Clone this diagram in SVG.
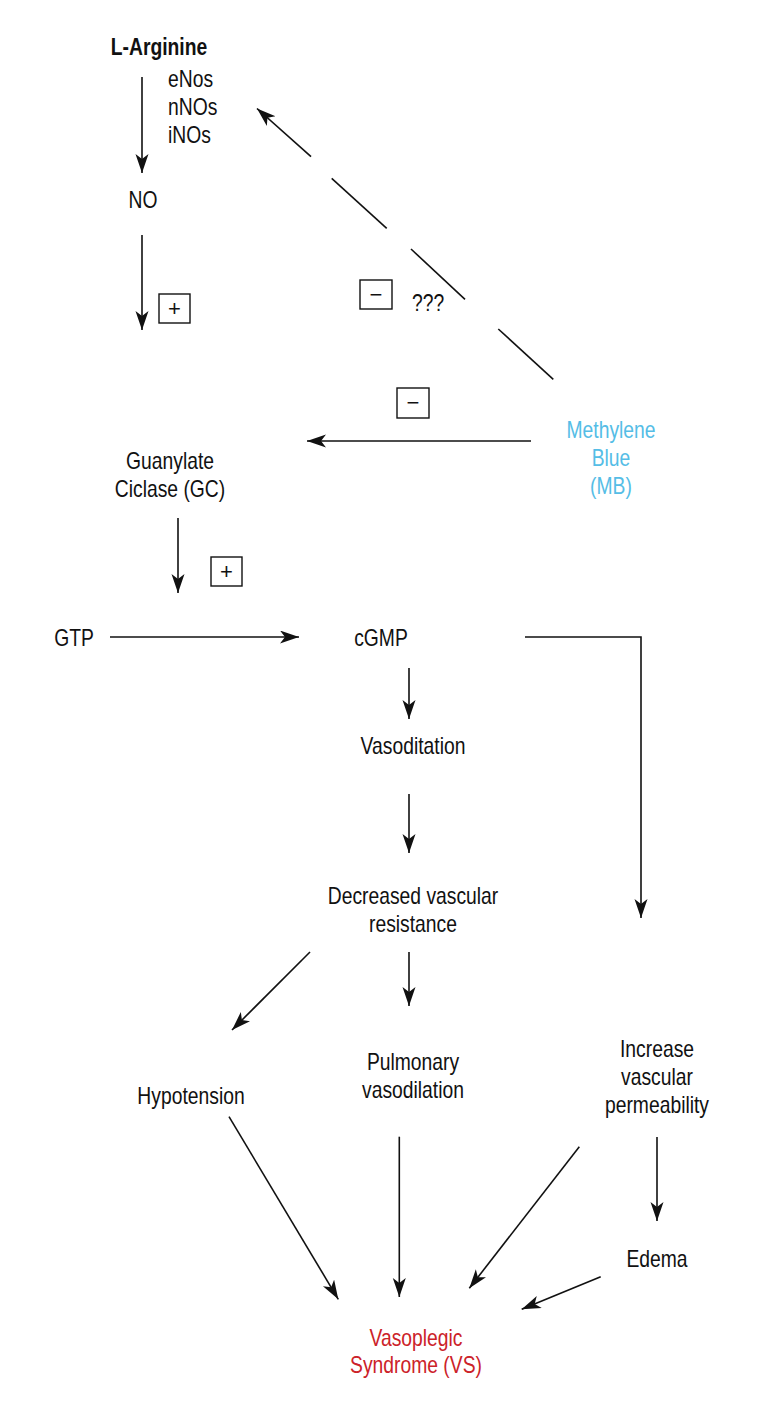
<svg xmlns="http://www.w3.org/2000/svg" width="771" height="1414" viewBox="0 0 771 1414">
<style>
text{font-family:"Liberation Sans",Arimo,sans-serif;font-size:23px;fill:#111;text-anchor:middle}
.b{font-weight:bold}
.l{text-anchor:start}
.red{fill:#cc2229}
.blue{fill:#55bde6}
.ln{stroke:#111;stroke-width:1.6;fill:none}
.ar{marker-end:url(#ah)}
.box{fill:#fff;stroke:#111;stroke-width:1.4}
.sg{font-size:22px}
</style>
<defs>
<marker id="ah" markerUnits="userSpaceOnUse" markerWidth="20" markerHeight="14" refX="19" refY="6.5" orient="auto">
<path d="M0,0 L19,6.5 L0,13 L5,6.5 Z" fill="#111"/>
</marker>
</defs>
<rect width="771" height="1414" fill="#fff"/>
<g id="connectors">
<line class="ln ar" x1="142" y1="77" x2="142" y2="173"/>
<line class="ln ar" x1="142" y1="235" x2="142" y2="330"/>
<line class="ln" x1="553.3" y1="379.3" x2="498.3" y2="329"/>
<line class="ln" x1="465" y1="299.3" x2="411" y2="249"/>
<line class="ln" x1="386.7" y1="228.3" x2="331.7" y2="178.3"/>
<line class="ln ar" x1="311" y1="156.7" x2="257" y2="108.5"/>
<line class="ln ar" x1="531" y1="441" x2="307" y2="441"/>
<line class="ln ar" x1="178" y1="518" x2="178" y2="593"/>
<line class="ln ar" x1="110" y1="637" x2="299" y2="637"/>
<polyline class="ln ar" points="525,637 641,637 641,918"/>
<line class="ln ar" x1="409" y1="668" x2="409" y2="719"/>
<line class="ln ar" x1="409" y1="794" x2="409" y2="853"/>
<line class="ln ar" x1="409" y1="952" x2="409" y2="1006"/>
<line class="ln ar" x1="310" y1="952" x2="232" y2="1030"/>
<line class="ln ar" x1="657" y1="1137" x2="657" y2="1221"/>
<line class="ln ar" x1="229" y1="1116.7" x2="338.3" y2="1299.3"/>
<line class="ln ar" x1="399.3" y1="1136.7" x2="399.3" y2="1297"/>
<line class="ln ar" x1="579.3" y1="1146.7" x2="469.3" y2="1288.3"/>
<line class="ln ar" x1="600.7" y1="1276.7" x2="521.7" y2="1309.3"/>
</g>
<g id="n-larginine"><text class="b" transform="translate(159,55) scale(0.84,1)">L-Arginine</text></g>
<g id="n-enzymes">
<text class="l" transform="translate(168,87) scale(0.84,1)">eNos</text>
<text class="l" transform="translate(168,115) scale(0.84,1)">nNOs</text>
<text class="l" transform="translate(168,143) scale(0.84,1)">iNOs</text>
</g>
<g id="n-no"><text transform="translate(143,208) scale(0.84,1)">NO</text></g>
<g id="s-plus1"><rect class="box" x="159" y="294" width="31" height="29"/><text class="sg" x="174.5" y="316">+</text></g>
<g id="s-minus1"><rect class="box" x="360" y="280" width="32" height="29"/><text class="sg" x="376" y="302">−</text></g>
<g id="l-qqq"><text class="l" transform="translate(412,311) scale(0.84,1)">???</text></g>
<g id="s-minus2"><rect class="box" x="397" y="388" width="32" height="30"/><text class="sg" x="413" y="410">−</text></g>
<g id="n-gc"><text transform="translate(170,469) scale(0.84,1)">Guanylate</text><text transform="translate(170,497) scale(0.84,1)">Ciclase (GC)</text></g>
<g id="n-mb"><text class="blue" transform="translate(611,438) scale(0.84,1)">Methylene</text><text class="blue" transform="translate(611,466) scale(0.84,1)">Blue</text><text class="blue" transform="translate(611,494) scale(0.84,1)">(MB)</text></g>
<g id="s-plus2"><rect class="box" x="211" y="557" width="31" height="29"/><text class="sg" x="226.5" y="579">+</text></g>
<g id="n-gtp"><text transform="translate(74,646) scale(0.84,1)">GTP</text></g>
<g id="n-cgmp"><text transform="translate(381,646) scale(0.84,1)">cGMP</text></g>
<g id="n-vaso"><text transform="translate(413,754) scale(0.84,1)">Vasoditation</text></g>
<g id="n-dvr"><text transform="translate(413,904) scale(0.84,1)">Decreased vascular</text><text transform="translate(413,932) scale(0.84,1)">resistance</text></g>
<g id="n-hypo"><text transform="translate(191,1104) scale(0.84,1)">Hypotension</text></g>
<g id="n-pulm"><text transform="translate(413,1070) scale(0.84,1)">Pulmonary</text><text transform="translate(413,1098) scale(0.84,1)">vasodilation</text></g>
<g id="n-ivp"><text transform="translate(657,1057) scale(0.84,1)">Increase</text><text transform="translate(657,1085) scale(0.84,1)">vascular</text><text transform="translate(657,1113) scale(0.84,1)">permeability</text></g>
<g id="n-edema"><text transform="translate(657,1267) scale(0.84,1)">Edema</text></g>
<g id="n-vs"><text class="red" transform="translate(416,1346) scale(0.84,1)">Vasoplegic</text><text class="red" transform="translate(416,1373) scale(0.84,1)">Syndrome (VS)</text></g>
</svg>
